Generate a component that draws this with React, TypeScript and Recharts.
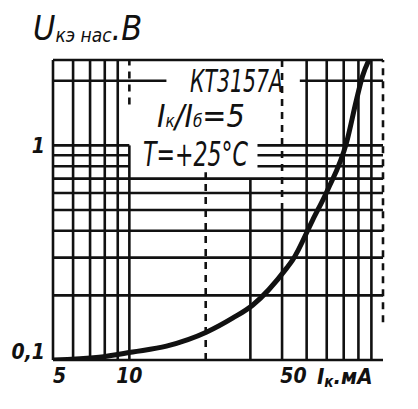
import { LineChart, Line, XAxis, YAxis, ReferenceLine } from "recharts";

// Ik, mA (log axis) and Uce sat, V (log axis)
const currentMA = [5, 7.6, 10.3, 14, 20.2, 25.6, 30.6, 41.7, 44, 52.8, 60.5, 71.8, 78.6, 83, 88];
const voltageV = [0.1, 0.103, 0.109, 0.116, 0.135, 0.157, 0.18, 0.268, 0.292, 0.449, 0.62, 1.03, 1.63, 2.1, 2.5];

const xTicks = [5, 10, 50];
const yTicks = [0.1, 1];

// grid of the log paper
const xGridFull = [5, 6, 7, 8, 9, 50, 60, 70, 80, 90];
const yGridFull = [0.1, 0.2, 0.3, 0.4, 0.5, 0.6, 0.7, 2.5];
const yGridCut = [0.8, 0.9, 1];

const INK = "#111";
const FONT = "'DejaVu Sans Condensed', 'Liberation Sans Narrow', 'DejaVu Sans', sans-serif";

const data = currentMA.map((ik, i) => ({ ik, u: voltageV[i] }));

const XTick = (props: any) => {
    const { x, y, payload } = props;
    const anchor = payload.value === 5 ? "start" : payload.value === 50 ? "end" : "middle";
    return (
        <text x={x} y={y} dy={23} textAnchor={anchor} fill={INK}
            fontFamily={FONT} fontStyle="italic" fontWeight="bold" fontSize={21}>
            {payload.value}
        </text>
    );
};

const YTick = (props: any) => {
    const { x, y, payload } = props;
    return (
        <text x={x} y={y} dy={payload.value === 1 ? 8 : -1} textAnchor="end" fill={INK}
            fontFamily={FONT} fontStyle="italic" fontWeight="bold" fontSize={21}>
            {String(payload.value).replace(".", ",")}
        </text>
    );
};

export default function App() {
    const line = { stroke: INK, strokeWidth: 2.6, ifOverflow: "visible" as const };
    const dashed = { ...line, strokeDasharray: "7 6" };
    return (
        <div style={{ position: "fixed", left: 0, top: 0, width: 418, height: 409, background: "#fff" }}>
            <LineChart width={418} height={409} data={data}
                margin={{ top: 60, right: 35, bottom: 0, left: 0 }}>
                <XAxis dataKey="ik" type="number" scale="log" domain={[5, 100]} allowDataOverflow
                    ticks={xTicks} axisLine={false} tickLine={false} tickSize={0} tickMargin={0}
                    height={49} tick={<XTick />} interval={0} />
                <YAxis dataKey="u" type="number" scale="log" domain={[0.1, 2.5]} allowDataOverflow
                    ticks={yTicks} axisLine={false} tickLine={false} tickSize={0} tickMargin={8}
                    width={53} tick={<YTick />} interval={0} />

                {xGridFull.map((v) => <ReferenceLine key={"x" + v} x={v} {...line} />)}
                {yGridFull.map((v) => <ReferenceLine key={"y" + v} y={v} {...line} />)}
                {yGridCut.map((v) => (
                    <ReferenceLine key={"yl" + v} segment={[{ x: 5, y: v }, { x: 10, y: v }]} {...line} />
                ))}
                {yGridCut.map((v) => (
                    <ReferenceLine key={"yr" + v} segment={[{ x: 32, y: v }, { x: 100, y: v }]} {...line} />
                ))}
                <ReferenceLine segment={[{ x: 5, y: 2 }, { x: 14, y: 2 }]} {...line} />
                <ReferenceLine segment={[{ x: 47, y: 2 }, { x: 100, y: 2 }]} {...line} />
                <ReferenceLine segment={[{ x: 10, y: 0.1 }, { x: 10, y: 1 }]} {...line} />
                <ReferenceLine segment={[{ x: 10, y: 1.55 }, { x: 10, y: 2.5 }]} {...dashed} />
                <ReferenceLine segment={[{ x: 20, y: 0.1 }, { x: 20, y: 0.75 }]} {...dashed} />
                <ReferenceLine segment={[{ x: 30, y: 0.1 }, { x: 30, y: 0.7 }]} {...line} />
                <ReferenceLine segment={[{ x: 40, y: 0.1 }, { x: 40, y: 0.5 }]} {...line} />
                <ReferenceLine segment={[{ x: 40, y: 0.5 }, { x: 40, y: 2.5 }]} {...dashed} />
                <ReferenceLine segment={[{ x: 100, y: 0.15 }, { x: 100, y: 2.5 }]} {...dashed} />

                <Line dataKey="u" type="monotone" stroke={INK} strokeWidth={5} dot={false}
                    isAnimationActive={false} strokeLinecap="round" />
            </LineChart>

            <svg width={418} height={409} style={{ position: "absolute", left: 0, top: 0, pointerEvents: "none" }}
                fontFamily={FONT} fontStyle="italic" fill={INK}>
                <text x={33} y={40} fontSize={34}>
                    U<tspan fontSize={19} dy={2}>кэ нас</tspan><tspan dy={-2}>.В</tspan>
                </text>
                <text x={190} y={92} fontSize={32} textLength={93} lengthAdjust="spacingAndGlyphs">КТ3157А</text>
                <text x={157} y={127} fontSize={32}>
                    I<tspan fontSize={17} dy={0}>к</tspan>/I<tspan fontSize={17}>б</tspan>=5
                </text>
                <text x={143} y={166} fontSize={33} textLength={105} lengthAdjust="spacingAndGlyphs">T=+25°C</text>
                <text x={317} y={384} fontSize={22} fontWeight="bold">
                    I<tspan fontSize={15} dy={3}>к</tspan><tspan dy={-3}>.мА</tspan>
                </text>
            </svg>
        </div>
    );
}
